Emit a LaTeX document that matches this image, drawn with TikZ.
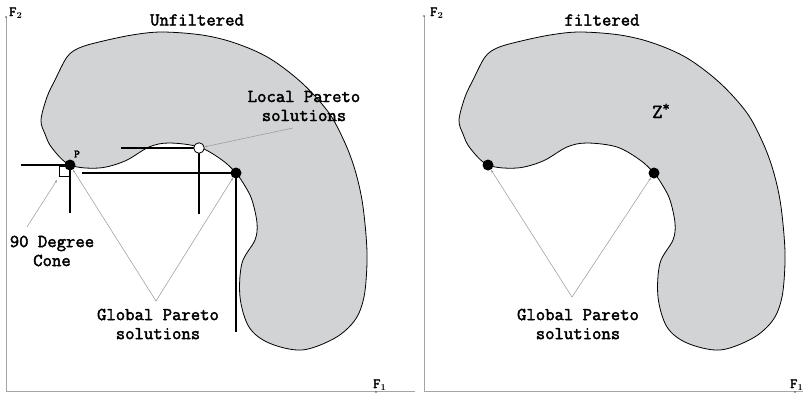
\documentclass[tikz,border=0pt]{standalone}
\usepackage{fontspec}
\setmonofont{Latin Modern Mono}[AutoFakeBold=2.2]
\usetikzlibrary{arrows.meta}
\definecolor{blobfill}{RGB}{209,211,212}
\definecolor{axisgray}{RGB}{165,165,165}
\definecolor{leadgray}{RGB}{150,150,150}
\begin{document}
\begin{tikzpicture}[x=1pt,y=-1pt,
  blob/.style={fill=blobfill,draw=black,line width=0.8pt},
  axisline/.style={draw=axisgray,line width=0.9pt},
  barline/.style={draw=black,line width=2.3pt},
  dot/.style={circle,fill=black,inner sep=0pt,minimum size=11pt},
  hollow/.style={circle,fill=white,draw=black,line width=0.8pt,inner sep=0pt,minimum size=10.5pt},
  leader/.style={draw=leadgray,line width=0.5pt,-{Stealth[length=3pt,width=2pt]}},
  lbl/.style={font=\fontsize{18.2}{19}\selectfont\ttfamily\bfseries,align=center,inner sep=0pt},
  axlbl/.style={font=\fontsize{14}{14}\selectfont\ttfamily\bfseries,inner sep=0pt},
  tipdot/.style={circle,fill=black!70,inner sep=0pt,minimum size=1.6pt}]
\useasboundingbox (0,0) rectangle (803,392);

% ---------- shapes (feasible region) ----------
\foreach \s in {-418,0}{
  \begin{scope}[xshift=\s pt]
    \draw[blob] plot[smooth cycle,tension=0.55] coordinates {
      (459,120) (465,97) (473,80) (485,57) (497,48) (517,42) (550,35) (580,32)
      (620,35) (653,43) (687,58) (720,83) (747,113) (763,143) (773,170)
      (780,200) (784,235) (785,263) (782,297) (773,320) (753,338) (720,350)
      (687,343) (667,327) (658,297) (660,263) (673,240) (675,223) (670,200)
      (663,186) (654,173) (640,160) (617,147) (587,143) (567,147) (543,161)
      (517,168) (488,165) (470,148) (463,134)};
  \end{scope}
}

% ---------- axes ----------
\coordinate (ly) at (6,17);
\coordinate (lo) at (6,391);
\coordinate (lx) at (415,391);
\coordinate (ry) at (424,16);
\coordinate (ro) at (424,391);
\coordinate (rx) at (803,391);
\draw[axisline] (ly) -- (lo) -- (lx);
\draw[axisline] (ry) -- (ro) -- (rx);
\node[tipdot] (lyt) at (ly) {};
\node[tipdot] (ryt) at (ry) {};
\node[tipdot] (lxt) at (376,392) {};
\node[tipdot] (rxt) at (795,392) {};
\node[axlbl,anchor=base west] (lf2) at (9,16) {F\kern0.3pt\raisebox{-2.5pt}{\fontsize{9}{9}\selectfont\rmfamily 2}};
\node[axlbl,anchor=base west] (lf1) at (373,388) {F\kern0.3pt\raisebox{-2.5pt}{\fontsize{9}{9}\selectfont\rmfamily 1}};
\node[axlbl,anchor=base west] (rf2) at (430,16) {F\kern0.3pt\raisebox{-2.5pt}{\fontsize{9}{9}\selectfont\rmfamily 2}};
\node[axlbl,anchor=base west] (rf1) at (790,388) {F\kern0.3pt\raisebox{-2.5pt}{\fontsize{9}{9}\selectfont\rmfamily 1}};

% ---------- titles ----------
\node[lbl] (t1) at (197,20) {Unfiltered};
\node[lbl] (t2) at (602,20) {filtered};

% ---------- left panel ----------
\coordinate (P) at (70,165);
\coordinate (B) at (236,173);
\coordinate (W) at (199,148);
\draw[line width=0.6pt] (59,166) rectangle (70,176);
\draw[barline] (21,165) -- (P) -- (70,213);
\draw[barline] (82,173) -- (B) -- (236,332);
\draw[barline] (121,148) -- (W) -- (199,214);
\node[dot] (pdot) at (P) {};
\node[dot] (bdot) at (B) {};
\node[hollow] (wdot) at (W) {};
\node[font=\fontsize{11}{11}\selectfont\ttfamily\bfseries,inner sep=0pt] (plab) at (77,154) {P};

\node[lbl] (local) at (304,106) {Local Pareto\\solutions};
\node[lbl] (cone) at (52,251) {90 Degree\\Cone};
\node[lbl] (glob1) at (158,324) {Global Pareto\\solutions};

\coordinate (la) at (293,128);
\coordinate (ca) at (27,227);
\coordinate (ct) at (57,180);
\coordinate (gv1) at (156,301);
\draw[leader] (la) -- (wdot);
\draw[leader] (ca) -- (ct);
\draw[leader] (gv1) -- (pdot);
\draw[leader] (gv1) -- (bdot);

% ---------- right panel ----------
\node[dot] (rp1) at (488,165) {};
\node[dot] (rp2) at (654,173) {};
\node[font=\fontsize{20}{20}\selectfont\ttfamily\bfseries,inner sep=0pt,anchor=base west] (zs) at (652,118) {Z\raisebox{7pt}{\fontsize{14}{14}\selectfont *}};
\node[lbl] (glob2) at (578,324) {Global Pareto\\solutions};
\coordinate (gv2) at (572,297);
\draw[leader] (gv2) -- (rp1);
\draw[leader] (gv2) -- (rp2);
\end{tikzpicture}
\end{document}
